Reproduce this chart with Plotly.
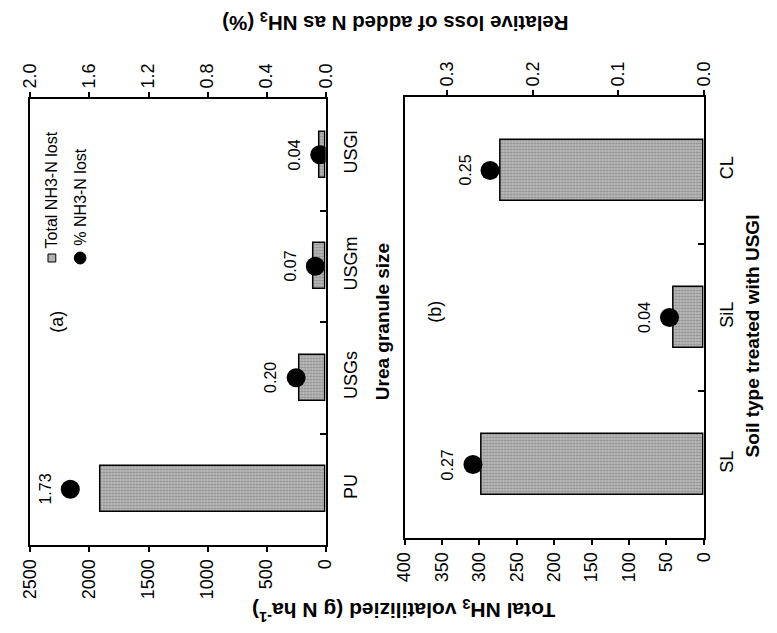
import plotly.graph_objects as go

# ---------------- data ----------------
granules = ["PU", "USGs", "USGm", "USGl"]
granule_total = [1910, 220, 100, 55]          # g N ha-1
granule_pct = [1.73, 0.20, 0.07, 0.04]        # % of added N
granule_pct_text = ["1.73", "0.20", "0.07", "0.04"]

soils = ["SL", "SiL", "CL"]
soil_total = [297, 40, 272]
soil_pct = [0.27, 0.04, 0.25]
soil_pct_text = ["0.27", "0.04", "0.25"]

a_total_ticks = [0, 500, 1000, 1500, 2000, 2500]
a_pct_ticks = [0.0, 0.4, 0.8, 1.2, 1.6, 2.0]
b_total_ticks = [0, 50, 100, 150, 200, 250, 300, 350, 400]
b_pct_ticks = [0.0, 0.1, 0.2, 0.3]

W, H = 777, 633
FONT = "Liberation Sans, Arial, sans-serif"


def px(x):
    return x / W


def py(y):
    return 1 - y / H


bar_marker = dict(
    color="#b0b0b0",
    line=dict(color="black", width=1.5),
    pattern=dict(shape=".", fgcolor="#5a5a5a", bgcolor="#bababa", size=3, solidity=0.4),
)

fig = go.Figure()

# panel (a)
fig.add_trace(go.Bar(x=granule_total, y=granules, orientation="h", width=0.41,
                     xaxis="x", yaxis="y", marker=bar_marker, showlegend=False))
fig.add_trace(go.Scatter(x=granule_pct, y=granules, mode="markers", xaxis="x2", yaxis="y",
                         marker=dict(color="black", size=19), showlegend=False))
# panel (b)
fig.add_trace(go.Bar(x=soil_total, y=soils, orientation="h", width=0.41,
                     xaxis="x3", yaxis="y3", marker=bar_marker, showlegend=False))
fig.add_trace(go.Scatter(x=soil_pct, y=soils, mode="markers", xaxis="x4", yaxis="y3",
                         marker=dict(color="black", size=19), showlegend=False))

axis_common = dict(showgrid=False, zeroline=False, showline=True, linecolor="black",
                   linewidth=2, tickcolor="black", tickwidth=1.5,
                   tickfont=dict(family=FONT, size=18, color="black"), tickangle=-90)

dom_a_x = [px(21), px(324)]
dom_a_y = [py(545), py(99)]
dom_b_x = [px(405), px(712)]
dom_b_y = [py(538), py(97)]

fig.update_layout(
    width=W, height=H, margin=dict(l=0, r=0, t=0, b=0),
    paper_bgcolor="white", plot_bgcolor="white",
    font=dict(family=FONT, color="black"),
    bargap=0,
    xaxis=dict(domain=dom_a_x, anchor="y", side="bottom", range=[2500, 0],
               tickvals=a_total_ticks, ticks="outside", ticklen=5, **axis_common),
    xaxis2=dict(overlaying="x", anchor="y", side="top", range=[2.0, 0],
                tickvals=a_pct_ticks, ticktext=[f"{v:.1f}" for v in a_pct_ticks],
                ticks="outside", ticklen=5, **axis_common),
    yaxis=dict(domain=dom_a_y, anchor="x", side="right", type="category",
               categoryorder="array", categoryarray=granules, range=[-0.5, 3.5],
               ticks="inside", tickson="boundaries", ticklen=6, mirror=True,
               ticklabelstandoff=8, **axis_common),
    xaxis3=dict(domain=dom_b_x, anchor="y3", side="bottom", range=[400, 0],
                tickvals=b_total_ticks, ticks="outside", ticklen=5, **axis_common),
    xaxis4=dict(overlaying="x3", anchor="y3", side="top", range=[0.35, 0],
                tickvals=b_pct_ticks, ticktext=[f"{v:.1f}" for v in b_pct_ticks],
                ticks="outside", ticklen=5, **axis_common),
    yaxis3=dict(domain=dom_b_y, anchor="x3", side="right", type="category",
                categoryorder="array", categoryarray=soils, range=[-0.5, 2.5],
                ticks="inside", tickson="boundaries", ticklen=6, mirror=True,
                ticklabelstandoff=6, **axis_common),
)

ann = []


def txt(x, y, text, angle, size, **kw):
    d = dict(x=px(x), y=py(y), xref="paper", yref="paper", text=text, textangle=angle,
             showarrow=False, xanchor="center", yanchor="middle",
             font=dict(size=size, family=FONT, color="black"))
    d.update(kw)
    return d


# value labels
for cat, v, t in zip(granules, granule_pct, granule_pct_text):
    ann.append(dict(x=v, y=cat, xref="x2", yref="y", text=t, textangle=-90, showarrow=False,
                    xanchor="center", yanchor="middle",
                    xshift=-25, font=dict(size=16, family=FONT, color="black")))
for cat, v, t in zip(soils, soil_pct, soil_pct_text):
    ann.append(dict(x=v, y=cat, xref="x4", yref="y3", text=t, textangle=-90, showarrow=False,
                    xanchor="center", yanchor="middle",
                    xshift=-25, font=dict(size=16, family=FONT, color="black")))

# panel labels
ann.append(txt(48, 322, "(a)", -90, 18))
ann.append(txt(436, 312, "(b)", -90, 18))

# axis titles
ann.append(txt(382, 322, "<b>Urea granule size</b>", -90, 19))
ann.append(txt(762, 336, "<b>Soil type treated with USGl</b>", -90, 19))
ann.append(txt(396, 22, "<b>Relative loss of added N as NH<sub>3</sub> (%)</b>", 180, 20.5))
ann.append(txt(404, 611, "<b>Total NH<sub>3</sub> volatilizied (g N ha<sup>-1</sup>)</b>", 180, 21))

# legend (rotated)
ann.append(txt(43, 250, "Total NH3-N lost", -90, 16, yanchor="bottom"))
ann.append(txt(72, 248, "% NH3-N lost", -90, 16, yanchor="bottom"))

shapes = [
    dict(type="rect", xref="paper", yref="paper", x0=px(39), x1=px(47), y0=py(262), y1=py(254),
         line=dict(color="black", width=1), fillcolor="#b0b0b0"),
    dict(type="circle", xref="paper", yref="paper", x0=px(66), x1=px(78), y0=py(264), y1=py(252),
         line=dict(color="black", width=1), fillcolor="black"),
]

fig.update_layout(annotations=ann, shapes=shapes)
fig.write_html("out.html")
